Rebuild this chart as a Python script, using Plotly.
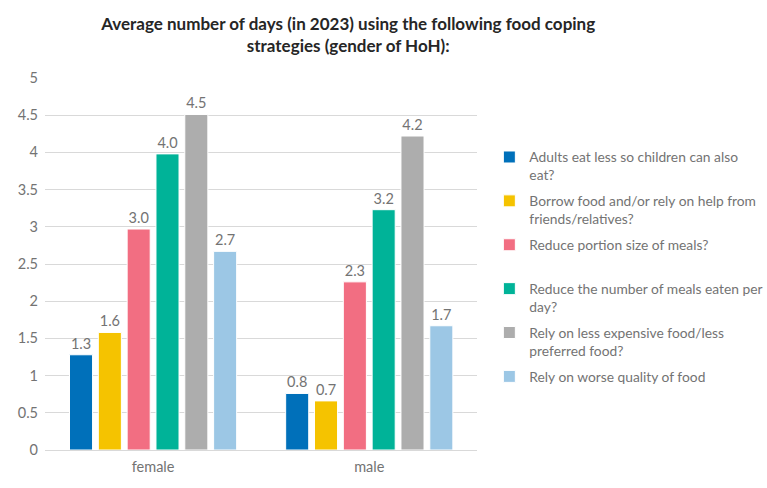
import plotly.graph_objects as go

categories = ["female", "male"]
series_names = [
    "Adults eat less so children can also<br>eat?",
    "Borrow food and/or rely on help from<br>friends/relatives?",
    "Reduce portion size of meals?<br> ",
    "Reduce the number of meals eaten per<br>day?",
    "Rely on less expensive food/less<br>preferred food?",
    "Rely on worse quality of food",
]
adults_less = [1.28, 0.76]
borrow_food = [1.58, 0.66]
reduce_portion = [2.97, 2.26]
reduce_meals = [3.98, 3.23]
less_expensive = [4.51, 4.22]
worse_quality = [2.67, 1.67]
series_values = [adults_less, borrow_food, reduce_portion, reduce_meals, less_expensive, worse_quality]
colors = ["#0070BA", "#F5C300", "#F26E82", "#00B398", "#ADADAD", "#9CC7E5"]
y_ticks = [0, 0.5, 1, 1.5, 2, 2.5, 3, 3.5, 4, 4.5, 5]
y_tick_labels = ["0", "0.5", "1", "1.5", "2", "2.5", "3", "3.5", "4", "4.5", "5"]

GREY = "#737373"

fig = go.Figure()
for i, (name, vals, col) in enumerate(zip(series_names, series_values, colors)):
    fig.add_trace(go.Bar(
        x=categories, y=vals, name=name, legendgroup=f"g{i}",
        marker=dict(color=col, line=dict(color="white", width=1)),
        text=[f"{v:.1f}" for v in vals], textposition="outside",
        textfont=dict(family="Lato", size=14.5, color=GREY),
        cliponaxis=False,
    ))

fig.update_layout(
    width=767, height=488,
    paper_bgcolor="white", plot_bgcolor="white",
    font=dict(family="Lato", color=GREY),
    title=dict(
        text="<b>Average number of days (in 2023) using the following food coping<br>strategies (gender of HoH):</b>",
        x=0.454, xanchor="center", xref="container", y=0.939, yanchor="middle", yref="container",
        font=dict(family="Lato", size=17, color="#262626"),
    ),
    margin=dict(l=45, r=287, t=78, b=38),
    barmode="group", bargap=0.2, bargroupgap=0.2,
    showlegend=True,
    legend=dict(
        xref="container", yref="container",
        x=0.638, y=0.71, xanchor="left", yanchor="top",
        font=dict(family="Lato", size=13.8, color=GREY),
        valign="top", itemwidth=30, tracegroupgap=5,
        maxheight=420,
        bgcolor="rgba(0,0,0,0)",
    ),
)
fig.update_xaxes(
    showgrid=False, showline=True, linecolor="#D9D9D9", linewidth=1,
    tickfont=dict(family="Lato", size=14.5, color=GREY), ticks="",
    ticklabelstandoff=4,
)
fig.update_yaxes(
    range=[0, 5], tickvals=y_ticks, ticktext=y_tick_labels,
    showgrid=True, gridcolor="#D9D9D9", gridwidth=1, zeroline=False,
    tickfont=dict(family="Lato", size=14.5, color=GREY), ticks="",
    ticklabelstandoff=6,
)
fig.write_html("out.html", config={"displayModeBar": False},
               post_script="document.body.style.margin='0';")
